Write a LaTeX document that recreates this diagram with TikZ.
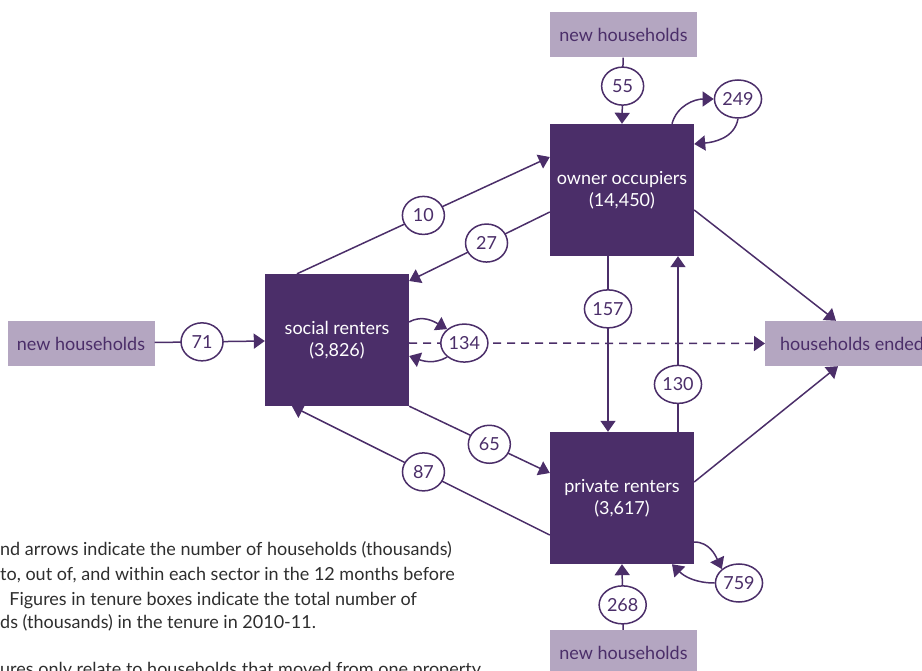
\documentclass[tikz,border=0pt]{standalone}
\usepackage{fontspec}
\setmainfont{Lato}
\usetikzlibrary{arrows.meta}
\usetikzlibrary{shapes.geometric}
\definecolor{tenpurple}{HTML}{4B2E69}
\definecolor{palepurple}{HTML}{B4A6C1}
\definecolor{notegray}{HTML}{2E2E2E}

\tikzset{
  tenure/.style={fill=tenpurple, text=white, minimum width=144pt,
    minimum height=132pt, align=center, inner sep=0pt,
    font=\fontsize{18}{22}\selectfont},
  outer/.style={fill=palepurple, text=tenpurple, minimum width=147pt,
    minimum height=45pt, inner sep=0pt, font=\fontsize{18}{22}\selectfont},
  numlab/.style={ellipse, draw=tenpurple, fill=white, line width=1.5pt, solid,
    minimum width=42pt, minimum height=38pt, inner sep=1pt, text=tenpurple,
    font=\fontsize{18}{22}\selectfont},
  flow/.style={draw=tenpurple, line width=1.5pt,
    -{Triangle[width=15pt,length=11pt]}},
  note/.style={anchor=base west, text=notegray, inner sep=0pt,
    font=\fontsize{18}{22}\selectfont}
}

\begin{document}
\begin{tikzpicture}[x=1pt,y=-1pt]
        \useasboundingbox (0,0) rectangle (922,671);
        \clip (0,0) rectangle (922,671);

        % tenure boxes
        \node[tenure] (oo) at (622,190) {owner occupiers\\(14,450)};
        \node[tenure] (sr) at (337,340) {social renters\\(3,826)};
        \node[tenure] (pr) at (622,498) {private renters\\(3,617)};

        \node[outer] (nhtop) at (623.5,35) {new households};
        \node[outer] (nhleft) at (81,343.5) {new households};
        \node[outer] (nhbot) at (623.5,652.5) {new households};
        \node[outer, anchor=west, minimum width=0pt, inner xsep=15pt]
        (he) at (765,343.5) {households ended};

        % in and out of the sector
        \draw[flow] (nhtop) -- (oo.north) node[numlab,pos=.43] {55};
        \draw[flow] (nhbot) -- (pr.south) node[numlab,pos=.38] {268};
        \draw[flow] (nhleft) -- ([yshift=-1pt]sr.west) node[numlab,pos=.43] {71};
        \draw[flow] ([yshift=-20pt]oo.east) -- ([xshift=71pt]he.north west);
        \draw[flow] ([yshift=16pt]pr.east) -- ([xshift=73pt]he.south west);
        \draw[flow, dash pattern=on 8pt off 6pt]
        ([yshift=-3pt]sr.east) -- (he.west) node[numlab,pos=.155] (l134) {134};

        % moves between sectors
        \draw[flow] ([xshift=-40pt]sr.north) -- ([yshift=33pt]oo.west)
        node[numlab,pos=.5] {10};
        \draw[flow] ([yshift=-22pt]oo.west) -- ([yshift=59pt]sr.east)
        node[numlab,pos=.45] {27};
        \draw[flow] ([xshift=-14pt]oo.south) -- ([xshift=-14pt]pr.north)
        node[numlab,pos=.3] {157};
        \draw[flow] ([xshift=56pt]pr.north) -- ([xshift=56pt]oo.south)
        node[numlab,pos=.27] {130};
        \draw[flow] (sr.south east) -- ([yshift=25pt]pr.west)
        node[numlab,pos=.57] {65};
        \draw[flow] ([yshift=-37pt]pr.west) -- ([xshift=-45pt]sr.south)
        node[numlab,pos=.49] {87};

        % moves within a sector
        \node[numlab] (l249) at (738,99) {249};
        \node[numlab] (l759) at (739,583) {759};
        \draw[flow] ([xshift=50pt]oo.north) to[out=75,in=180] (l249.west);
        \draw[flow] (l249.south) to[out=-100,in=5] ([yshift=46pt]oo.east);
        \draw[flow] ([yshift=-44pt]pr.east) to[out=0,in=115] (l759.north west);
        \draw[flow] (l759.west) to[out=180,in=-45] ([xshift=50pt]pr.south);
        \draw[flow] ([yshift=18pt]sr.east) to[out=30,in=150] (l134.north west);
        \draw[flow] (l134.south west) to[out=-150,in=-20] ([yshift=-16pt]sr.east);

        \node[note] (n1) at (0,555) {nd arrows indicate the number of households (thousands)};
        \node[note] (n2) at (0,580) {to, out of, and within each sector in the 12 months before};
        \node[note] (n3) at (0,605) {\ \ Figures in tenure boxes indicate the total number of};
        \node[note] (n4) at (0,628) {ds (thousands) in the tenure in 2010-11.};
        \node[note] (n5) at (0,675) {ures only relate to households that moved from one property};
      \end{tikzpicture}
\end{document}
